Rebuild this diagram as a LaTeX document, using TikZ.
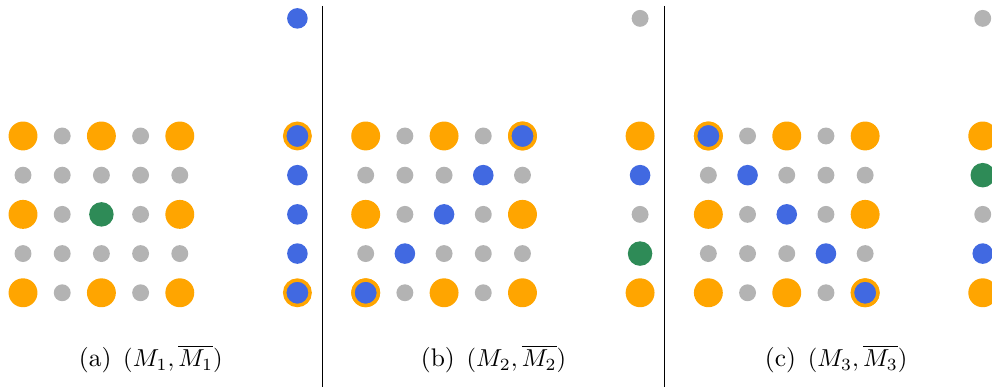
\documentclass[tikz,border=0pt]{standalone}
\usepackage{amsmath}
\usepackage{xcolor}
\usetikzlibrary{positioning}
\definecolor{qorange}{RGB}{255,165,0}
\definecolor{qgray}{RGB}{179,179,179}
\definecolor{qblue}{RGB}{65,105,225}
\definecolor{qgreen}{RGB}{46,139,87}
\begin{document}
\begin{tikzpicture}[x=16pt, y=-16pt,
  dot/.style={circle, inner sep=0pt},
  bigdot/.style={dot, fill=qorange, minimum size=11.8pt},
  smalldot/.style={dot, fill=qgray, minimum size=6.9pt},
  bluedot/.style={dot, fill=qblue, minimum size=8.4pt},
  greendot/.style={dot, fill=qgreen, minimum size=10pt},
  ringdot/.style={dot, fill=qblue, draw=qorange, line width=1.4pt, minimum size=10.4pt},
  captxt/.style={anchor=base, font=\fontsize{10.4}{12.5}\selectfont}]
\useasboundingbox (-0.587,-3.469) rectangle (24.72,6.403);

% common lattice of the three panels
\foreach \p/\lab in {0/a,1/b,2/c} {
  \begin{scope}[shift={(\p*8.742,0)}]
    \foreach \i/\j in {0/0,2/0,4/0,0/2,4/2,0/4,2/4,4/4}
      \node[bigdot] (\lab-\i-\j) at (\i,\j) {};
    \foreach \i/\j in {1/0,3/0,0/1,1/1,2/1,3/1,4/1,1/2,3/2,0/3,1/3,2/3,3/3,4/3,1/4,3/4}
      \node[smalldot] (\lab-\i-\j) at (\i,\j) {};
  \end{scope}
}

% (a)
\node[greendot] (a-mid) at (2,2) {};
\node[bluedot] (a-top) at (7,-3) {};
\node[ringdot] (a-r0) at (7,0) {};
\node[bluedot] (a-r1) at (7,1) {};
\node[bluedot] (a-r2) at (7,2) {};
\node[bluedot] (a-r3) at (7,3) {};
\node[ringdot] (a-r4) at (7,4) {};
\node[captxt] (cap-a) at (3.26,5.89) {(a)\hspace{4.8pt}$(M_1,\overline{M_1})$};

% (b)
\begin{scope}[shift={(8.742,0)}]
\node[ringdot] (b-d0) at (4,0) {};
\node[bluedot] (b-d1) at (3,1) {};
\node[bluedot] (b-mid) at (2,2) {};
\node[bluedot] (b-d3) at (1,3) {};
\node[ringdot] (b-d4) at (0,4) {};
\node[smalldot] (b-top) at (7,-3) {};
\node[bigdot] (b-r0) at (7,0) {};
\node[bluedot] (b-r1) at (7,1) {};
\node[smalldot] (b-r2) at (7,2) {};
\node[greendot] (b-r3) at (7,3) {};
\node[bigdot] (b-r4) at (7,4) {};
\node[captxt] (cap-b) at (3.26,5.89) {(b)\hspace{4.8pt}$(M_2,\overline{M_2})$};
\end{scope}

% (c)
\begin{scope}[shift={(17.484,0)}]
\node[ringdot] (c-d0) at (0,0) {};
\node[bluedot] (c-d1) at (1,1) {};
\node[bluedot] (c-mid) at (2,2) {};
\node[bluedot] (c-d3) at (3,3) {};
\node[ringdot] (c-d4) at (4,4) {};
\node[smalldot] (c-top) at (7,-3) {};
\node[bigdot] (c-r0) at (7,0) {};
\node[greendot] (c-r1) at (7,1) {};
\node[smalldot] (c-r2) at (7,2) {};
\node[bluedot] (c-r3) at (7,3) {};
\node[bigdot] (c-r4) at (7,4) {};
\node[captxt] (cap-c) at (3.26,5.89) {(c)\hspace{4.8pt}$(M_3,\overline{M_3})$};
\end{scope}

% separators
\draw[line width=0.4pt] (7.628,-3.316) -- (7.628,6.403);
\draw[line width=0.4pt] (16.37,-3.316) -- (16.37,6.403);
\end{tikzpicture}
\end{document}
